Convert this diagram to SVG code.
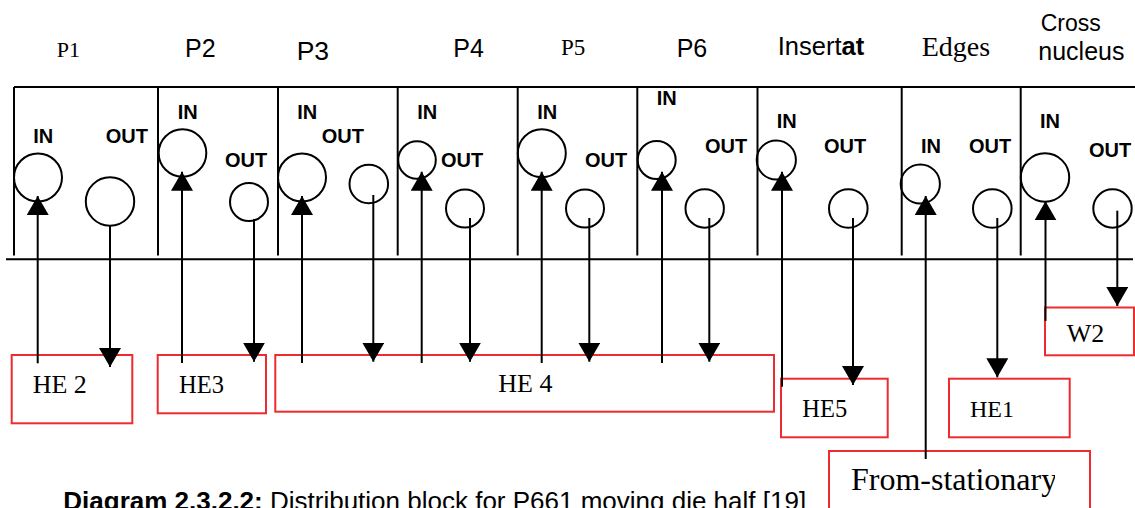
<svg xmlns="http://www.w3.org/2000/svg" width="1135" height="508" viewBox="0 0 1135 508">
<style>
.frame{stroke:#000;stroke-width:2;fill:none}
.port{stroke:#000;stroke-width:2;fill:none}
.lbl{font-family:"Liberation Sans",Arial,sans-serif;font-weight:bold;font-size:20px;fill:#000}
.hs{font-family:"Liberation Sans",Arial,sans-serif;font-size:25px;fill:#000}
.hr{font-family:"Liberation Serif","Times New Roman",serif;font-size:23px;fill:#000}
.box{stroke:#ee2b2e;stroke-width:2;fill:none}
.bt{font-family:"Liberation Serif","Times New Roman",serif;font-size:26px;fill:#000}
.con{stroke:#000;stroke-width:2;fill:none}
.cap{font-family:"Liberation Sans",Arial,sans-serif;font-size:26px;fill:#000}
</style>
<defs>
<marker id="ah" viewBox="0 0 19 22" refX="19" refY="11" markerWidth="19" markerHeight="22" markerUnits="userSpaceOnUse" orient="auto">
<path d="M0,0 L19,11 L0,22 z" fill="#000"/>
</marker>
<clipPath id="fsclip"><rect x="829" y="451" width="226" height="60"/></clipPath>
</defs>
<rect width="1135" height="508" fill="#fff"/>

<g id="block-frame">
<line class="frame" x1="14" y1="87" x2="1135" y2="87"/>
<line class="frame" x1="6" y1="259.3" x2="1133" y2="259.3"/>
</g>

<g id="P1">
<line class="frame" x1="14" y1="87" x2="14" y2="255.5"/>
<text class="hr" x="56.7" y="56.7" style="font-size:22px">P1</text>
<text class="lbl" x="33.3" y="143.3">IN</text>
<text class="lbl" x="105.7" y="143.3">OUT</text>
<circle class="port" cx="38" cy="177.5" r="24"/>
<circle class="port" cx="110" cy="201.5" r="24.2"/>
</g>
<g id="P2">
<line class="frame" x1="158" y1="87" x2="158" y2="255.5"/>
<text class="hs" x="185" y="56.7">P2</text>
<text class="lbl" x="177.7" y="119">IN</text>
<text class="lbl" x="225" y="166.7">OUT</text>
<circle class="port" cx="182.5" cy="153" r="23.8"/>
<circle class="port" cx="249" cy="202" r="19"/>
</g>
<g id="P3">
<line class="frame" x1="278" y1="87" x2="278" y2="255.5"/>
<text class="hs" x="296.7" y="60" style="font-size:26.5px">P3</text>
<text class="lbl" x="297.3" y="119">IN</text>
<text class="lbl" x="321.7" y="143.3">OUT</text>
<circle class="port" cx="302" cy="177.5" r="24"/>
<circle class="port" cx="368.8" cy="184" r="19.3"/>
</g>
<g id="P4">
<line class="frame" x1="397.7" y1="87" x2="397.7" y2="255.5"/>
<text class="hs" x="453.3" y="56.7">P4</text>
<text class="lbl" x="417.3" y="119.3">IN</text>
<text class="lbl" x="441" y="166.7">OUT</text>
<circle class="port" cx="417" cy="160" r="18.8"/>
<circle class="port" cx="465" cy="208.5" r="19"/>
</g>
<g id="P5">
<line class="frame" x1="517.7" y1="87" x2="517.7" y2="255.5"/>
<text class="hr" x="561" y="55">P5</text>
<text class="lbl" x="537.3" y="119.3">IN</text>
<text class="lbl" x="585" y="166.7">OUT</text>
<circle class="port" cx="541.8" cy="153.3" r="24"/>
<circle class="port" cx="585" cy="208.5" r="19"/>
</g>
<g id="P6">
<line class="frame" x1="637.3" y1="87" x2="637.3" y2="255.5"/>
<text class="hs" x="676.7" y="56.7">P6</text>
<text class="lbl" x="656.7" y="105">IN</text>
<text class="lbl" x="705" y="152.7">OUT</text>
<circle class="port" cx="656.7" cy="160" r="19"/>
<circle class="port" cx="704.7" cy="208.5" r="19.2"/>
</g>
<g id="Insertat">
<line class="frame" x1="757.5" y1="87" x2="757.5" y2="255.5"/>
<text class="hs" x="777.7" y="55" style="font-size:25.5px">Insert<tspan font-weight="bold">at</tspan></text>
<text class="lbl" x="776.7" y="128.3">IN</text>
<text class="lbl" x="824" y="152.7">OUT</text>
<circle class="port" cx="776.3" cy="160" r="19.6"/>
<circle class="port" cx="848.3" cy="208.5" r="19.3"/>
</g>
<g id="Edges">
<line class="frame" x1="901.7" y1="87" x2="901.7" y2="255.5"/>
<text class="hr" x="921.7" y="56" style="font-size:28px">Edges</text>
<text class="lbl" x="921" y="152.7">IN</text>
<text class="lbl" x="969" y="152.7">OUT</text>
<circle class="port" cx="920.3" cy="184" r="19.6"/>
<circle class="port" cx="992.3" cy="208.5" r="19.3"/>
</g>
<g id="CrossNucleus">
<line class="frame" x1="1020.7" y1="87" x2="1020.7" y2="255.5"/>
<text class="hs" x="1040.7" y="30.7" style="font-size:23px">Cross</text>
<text class="hs" x="1038.3" y="60">nucleus</text>
<text class="lbl" x="1040" y="128.3">IN</text>
<text class="lbl" x="1089" y="157.3">OUT</text>
<circle class="port" cx="1045" cy="177.5" r="24.2"/>
<circle class="port" cx="1112.5" cy="208.5" r="19.2"/>
</g>

<g id="HE2">
<rect class="box" x="11.7" y="355" width="120.6" height="68.3"/>
<text class="bt" x="32.7" y="392.7">HE 2</text>
</g>
<g id="HE3">
<rect class="box" x="157.7" y="355" width="108.3" height="58.3"/>
<text class="bt" x="179" y="392.7" style="font-size:24.5px">HE3</text>
</g>
<g id="HE4">
<rect class="box" x="275.3" y="355" width="498.7" height="56.7"/>
<text class="bt" x="498.3" y="391.7">HE 4</text>
</g>
<g id="HE5">
<rect class="box" x="781" y="378.7" width="106.7" height="58.6"/>
<text class="bt" x="802.3" y="416.7" style="font-size:24.5px">HE5</text>
</g>
<g id="HE1">
<rect class="box" x="949" y="378.7" width="120.7" height="58.6"/>
<text class="bt" x="970" y="416.7" style="font-size:24px">HE1</text>
</g>
<g id="W2">
<rect class="box" x="1045" y="307.5" width="89" height="47.8"/>
<text class="bt" x="1066.7" y="342">W2</text>
</g>
<g id="FromStationary">
<rect class="box" x="829" y="451" width="261" height="80"/>
<text class="bt" x="851" y="490" style="font-size:32px" clip-path="url(#fsclip)">From-stationary</text>
</g>

<g id="connectors">
<line class="con" x1="37.7" y1="363.3" x2="37.7" y2="196" marker-end="url(#ah)"/>
<line class="con" x1="110" y1="225.7" x2="110" y2="367" marker-end="url(#ah)"/>
<line class="con" x1="182" y1="363" x2="182" y2="171.7" marker-end="url(#ah)"/>
<line class="con" x1="254" y1="219" x2="254" y2="361.7" marker-end="url(#ah)"/>
<line class="con" x1="302" y1="363" x2="302" y2="196" marker-end="url(#ah)"/>
<line class="con" x1="373.3" y1="195" x2="373.3" y2="361.7" marker-end="url(#ah)"/>
<line class="con" x1="421.7" y1="363" x2="421.7" y2="171.7" marker-end="url(#ah)"/>
<line class="con" x1="470" y1="218" x2="470" y2="361.7" marker-end="url(#ah)"/>
<line class="con" x1="541.7" y1="363" x2="541.7" y2="171.7" marker-end="url(#ah)"/>
<line class="con" x1="589.3" y1="218" x2="589.3" y2="361.7" marker-end="url(#ah)"/>
<line class="con" x1="662" y1="363" x2="662" y2="171.7" marker-end="url(#ah)"/>
<line class="con" x1="709.3" y1="218" x2="709.3" y2="361.7" marker-end="url(#ah)"/>
<line class="con" x1="782" y1="386.7" x2="782" y2="171.7" marker-end="url(#ah)"/>
<line class="con" x1="853" y1="218" x2="853" y2="385" marker-end="url(#ah)"/>
<line class="con" x1="925.7" y1="459" x2="925.7" y2="196" marker-end="url(#ah)"/>
<line class="con" x1="997.3" y1="218" x2="997.3" y2="377.3" marker-end="url(#ah)"/>
<line class="con" x1="1045.5" y1="321" x2="1045.5" y2="201.3" marker-end="url(#ah)"/>
<line class="con" x1="1117.3" y1="210.7" x2="1117.3" y2="306" marker-end="url(#ah)"/>
</g>

<g id="caption">
<text class="cap" x="63.3" y="510"><tspan font-weight="bold">Diagram 2.3.2.2:</tspan> Distribution block for P661 moving die half [19]</text>
</g>
</svg>
